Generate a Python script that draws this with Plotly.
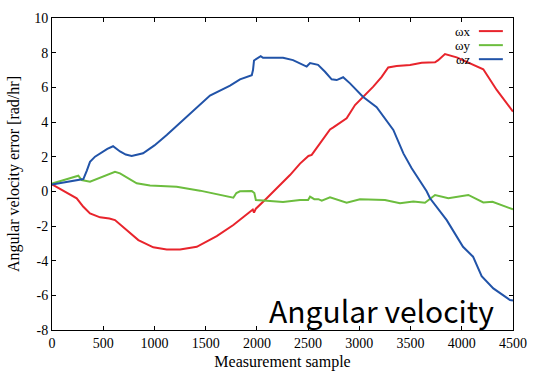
import plotly.graph_objects as go

# ---- data ----
wx_x = [0, 120, 241, 306, 371, 469, 560, 615, 729, 843, 989, 1120, 1250, 1413, 1608, 1770,
        1933, 1960, 1972, 1990, 2096, 2258, 2323, 2421, 2503, 2535, 2616, 2714, 2746, 2876,
        2958, 3050, 3136, 3218, 3282, 3364, 3495, 3609, 3739, 3770, 3836, 3950, 4080, 4210,
        4341, 4500]
wx_y = [0.4, 0.02, -0.4, -0.89, -1.27, -1.5, -1.57, -1.66, -2.23, -2.81, -3.23, -3.35, -3.35,
        -3.2, -2.58, -1.94, -1.18, -1.05, -1.23, -1.0, -0.4, 0.55, 0.94, 1.6, 2.04, 2.1,
        2.77, 3.57, 3.69, 4.21, 4.98, 5.5, 6.04, 6.6, 7.15, 7.23, 7.29, 7.42, 7.44, 7.57,
        7.92, 7.73, 7.38, 7.04, 5.85, 4.6]

wy_x = [0, 257, 290, 371, 615, 664, 827, 957, 1217, 1445, 1770, 1800, 1835, 1950, 1975, 1990,
        2096, 2255, 2421, 2500, 2519, 2560, 2600, 2633, 2714, 2876, 3006, 3250, 3397, 3527,
        3641, 3739, 3869, 4064, 4210, 4300, 4500]
wy_y = [0.45, 0.9, 0.65, 0.55, 1.13, 1.04, 0.46, 0.33, 0.27, 0.04, -0.37, -0.1, 0.0, 0.02,
        -0.1, -0.5, -0.54, -0.62, -0.5, -0.5, -0.31, -0.45, -0.45, -0.54, -0.35, -0.66,
        -0.46, -0.5, -0.69, -0.58, -0.66, -0.21, -0.4, -0.21, -0.64, -0.6, -1.04]

wz_x = [0, 150, 270, 306, 340, 371, 420, 469, 540, 596, 664, 720, 778, 889, 1000, 1120, 1347,
        1542, 1738, 1800, 1835, 1950, 1962, 1972, 2000, 2037, 2060, 2255, 2353, 2421, 2486,
        2519, 2597, 2665, 2730, 2779, 2842, 2909, 3035, 3169, 3250, 3332, 3430, 3511, 3657,
        3690, 3853, 4012, 4110, 4194, 4308, 4471, 4500]
wz_y = [0.4, 0.55, 0.65, 0.71, 1.2, 1.7, 2.0, 2.2, 2.45, 2.6, 2.3, 2.12, 2.04, 2.2, 2.65,
        3.25, 4.5, 5.53, 6.1, 6.3, 6.46, 6.7, 7.0, 7.55, 7.65, 7.8, 7.7, 7.7, 7.57, 7.4,
        7.2, 7.4, 7.3, 6.9, 6.46, 6.42, 6.58, 6.23, 5.46, 4.86, 4.23, 3.54, 2.19, 1.33,
        0.0, -0.4, -1.66, -3.2, -3.77, -4.89, -5.6, -6.27, -6.3]

series_names = ["ωx", "ωy", "ωz"]
colors = ["#e8242c", "#6cbd3e", "#2153a8"]

x_ticks = [0, 500, 1000, 1500, 2000, 2500, 3000, 3500, 4000, 4500]
y_ticks = [-8, -6, -4, -2, 0, 2, 4, 6, 8, 10]

serif = "Liberation Serif, Times New Roman, serif"

fig = go.Figure()
for xs, ys, name, c in zip([wx_x, wy_x, wz_x], [wx_y, wy_y, wz_y], series_names, colors):
    fig.add_trace(go.Scatter(x=xs, y=ys, mode="lines", name=name,
                             line=dict(color=c, width=2), showlegend=False,
                             hoverinfo="skip"))

# gnuplot-style legend (text left, line sample right), in paper coordinates
leg_y = [0.958, 0.913, 0.868]
for name, c, yy in zip(series_names, colors, leg_y):
    fig.add_annotation(x=0.913, y=yy, xref="paper", yref="paper", text=name,
                       showarrow=False, xanchor="right", yanchor="middle",
                       font=dict(family=serif, size=13, color="black"))
    fig.add_shape(type="line", xref="paper", yref="paper", x0=0.926, x1=0.978,
                  y0=yy, y1=yy, line=dict(color=c, width=2))

fig.add_annotation(x=0.714, y=0.064, xref="paper", yref="paper", text="Angular velocity",
                   showarrow=False, xanchor="center", yanchor="middle",
                   font=dict(family="Noto Sans CJK JP, Noto Sans, sans-serif", size=30,
                             color="black"))

axis_common = dict(showgrid=False, zeroline=False, showline=True, linecolor="black",
                   linewidth=1, mirror="ticks", ticks="inside", ticklen=4,
                   tickcolor="black", automargin=False,
                   tickfont=dict(family=serif, size=14, color="black"))

fig.update_xaxes(range=[0, 4500], tickvals=x_ticks, ticktext=[str(v) for v in x_ticks],
                 title=dict(text="Measurement sample", font=dict(family=serif, size=16,
                                                                 color="black"),
                            standoff=6),
                 **axis_common)
fig.update_yaxes(range=[-8, 10], tickvals=y_ticks, ticktext=[str(v) for v in y_ticks],
                 title=dict(text="Angular velocity error [rad/hr]",
                            font=dict(family=serif, size=16, color="black"), standoff=10),
                 **axis_common)

fig.update_layout(width=533, height=372, margin=dict(l=52, r=20, t=18, b=42),
                  paper_bgcolor="white", plot_bgcolor="white")

fig.write_html("out.html", config={"displayModeBar": False},
               post_script="document.body.style.margin='0';")
